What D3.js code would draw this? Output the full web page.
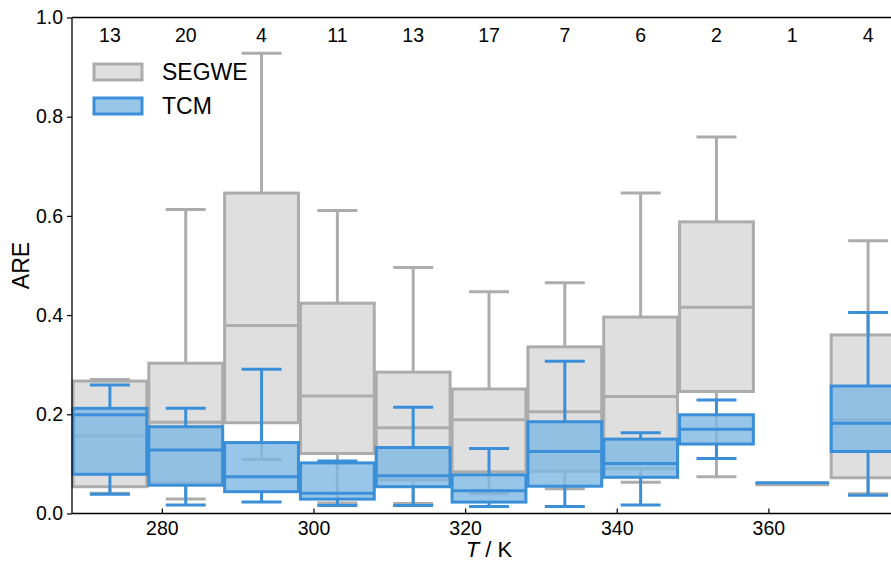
<!DOCTYPE html>
<html>
<head>
<meta charset="utf-8">
<script src="https://cdn.jsdelivr.net/npm/d3@7"></script>
<style>
  body { margin: 0; background: #fff; }
  svg { font-family: "Liberation Sans", Arial, sans-serif; display: block; }
</style>
</head>
<body>
<svg id="chart" width="891" height="562"></svg>
<script>
// bin centres (K) and number of points per bin
var temps = [273.15, 283.15, 293.15, 303.15, 313.15, 323.15, 333.15, 343.15, 353.15, 363.15, 373.15];
var counts = [13, 20, 4, 11, 13, 17, 7, 6, 2, 1, 4];

// SEGWE box stats: lower whisker, q1, median, q3, upper whisker
var segweLo  = [0.041, 0.029, 0.109, 0.021, 0.020, 0.040, 0.050, 0.063, 0.074, 0.058, 0.040];
var segweQ1  = [0.054, 0.062, 0.183, 0.121, 0.068, 0.084, 0.085, 0.090, 0.246, 0.058, 0.072];
var segweMed = [0.157, 0.184, 0.379, 0.237, 0.173, 0.189, 0.205, 0.236, 0.416, 0.058, 0.189];
var segweQ3  = [0.267, 0.303, 0.646, 0.424, 0.285, 0.251, 0.336, 0.396, 0.588, 0.058, 0.360];
var segweHi  = [0.270, 0.613, 0.928, 0.611, 0.496, 0.447, 0.465, 0.646, 0.759, 0.058, 0.550];

// TCM box stats
var tcmLo  = [0.039, 0.017, 0.023, 0.016, 0.016, 0.014, 0.014, 0.017, 0.111, 0.062, 0.037];
var tcmQ1  = [0.079, 0.057, 0.044, 0.029, 0.054, 0.023, 0.055, 0.073, 0.140, 0.062, 0.125];
var tcmMed = [0.199, 0.128, 0.074, 0.041, 0.076, 0.046, 0.125, 0.101, 0.170, 0.062, 0.182];
var tcmQ3  = [0.212, 0.175, 0.143, 0.102, 0.133, 0.078, 0.185, 0.150, 0.199, 0.062, 0.257];
var tcmHi  = [0.259, 0.212, 0.291, 0.106, 0.214, 0.131, 0.307, 0.163, 0.229, 0.062, 0.405];

var xTicks = [280, 300, 320, 340, 360];
var yTicks = [0, 0.2, 0.4, 0.6, 0.8, 1.0];

var svg = d3.select('#chart');
var plotLeft = 72, plotTop = 17.5, plotBottom = 513.5, plotRight = 906;

var x = d3.scaleLinear().domain([268.15, 378.15]).range([plotLeft, plotRight]);
var y = d3.scaleLinear().domain([0, 1]).range([plotBottom, plotTop]);

var boxW = x(278.15) - x(268.15) - 2;
var capW = 40;

function drawSeries(lo, q1, med, q3, hi, stroke, fill, fillOpacity) {
    var g = svg.append('g');
    temps.forEach(function(t, i) {
        var cx = x(t);
        var gg = g.append('g')
            .attr('stroke', stroke)
            .attr('stroke-width', 3)
            .attr('fill', 'none');
        if (counts[i] > 1) {
            // whiskers
            gg.append('line').attr('x1', cx).attr('x2', cx).attr('y1', y(q3[i])).attr('y2', y(hi[i]));
            gg.append('line').attr('x1', cx).attr('x2', cx).attr('y1', y(q1[i])).attr('y2', y(lo[i]));
            gg.append('line').attr('x1', cx - capW / 2).attr('x2', cx + capW / 2).attr('y1', y(hi[i])).attr('y2', y(hi[i]));
            gg.append('line').attr('x1', cx - capW / 2).attr('x2', cx + capW / 2).attr('y1', y(lo[i])).attr('y2', y(lo[i]));
            gg.append('rect')
                .attr('x', cx - boxW / 2)
                .attr('y', y(q3[i]))
                .attr('width', boxW)
                .attr('height', y(q1[i]) - y(q3[i]))
                .attr('fill', fill)
                .attr('fill-opacity', fillOpacity);
        }
        gg.append('line').attr('x1', cx - boxW / 2).attr('x2', cx + boxW / 2).attr('y1', y(med[i])).attr('y2', y(med[i]));
    });
}

drawSeries(segweLo, segweQ1, segweMed, segweQ3, segweHi, '#acacac', '#dfdfdf', 1);
drawSeries(tcmLo, tcmQ1, tcmMed, tcmQ3, tcmHi, '#3a8fd8', '#7eb8e2', 0.8);

// axes frame
svg.append('line').attr('x1', plotLeft).attr('x2', plotRight).attr('y1', plotBottom).attr('y2', plotBottom)
    .attr('stroke', '#000').attr('stroke-width', 1.3);
svg.append('line').attr('x1', plotLeft).attr('x2', plotRight).attr('y1', plotTop).attr('y2', plotTop)
    .attr('stroke', '#000').attr('stroke-width', 1.3);
svg.append('line').attr('x1', plotLeft).attr('x2', plotLeft).attr('y1', plotTop).attr('y2', plotBottom)
    .attr('stroke', '#000').attr('stroke-width', 1.3);

// x ticks (inward)
var xAxis = svg.append('g').attr('transform', 'translate(0,' + plotBottom + ')')
    .call(d3.axisBottom(x).tickValues(xTicks).tickSize(-5).tickPadding(8).tickFormat(d3.format('d')));
xAxis.select('.domain').remove();
xAxis.selectAll('text').attr('font-size', 19.5).attr('fill', '#000').attr('font-family', '"Liberation Sans", Arial, sans-serif');
xAxis.selectAll('line').attr('stroke', '#000').attr('stroke-width', 1.2);

// y ticks (outward)
var yAxis = svg.append('g').attr('transform', 'translate(' + plotLeft + ',0)')
    .call(d3.axisLeft(y).tickValues(yTicks).tickSize(5).tickPadding(4).tickFormat(d3.format('.1f')));
yAxis.select('.domain').remove();
yAxis.selectAll('text').attr('font-size', 19.5).attr('fill', '#000').attr('font-family', '"Liberation Sans", Arial, sans-serif');
yAxis.selectAll('line').attr('stroke', '#000').attr('stroke-width', 1.2);

// counts along the top
svg.append('g').selectAll('text').data(counts).enter().append('text')
    .attr('x', function(d, i) { return x(temps[i]); })
    .attr('y', 42)
    .attr('text-anchor', 'middle')
    .attr('font-size', 19.5)
    .text(function(d) { return d; });

// axis labels
svg.append('text')
    .attr('transform', 'translate(29,' + ((plotTop + plotBottom) / 2) + ') rotate(-90)')
    .attr('text-anchor', 'middle')
    .attr('font-size', 23)
    .text('ARE');

var xl = svg.append('text')
    .attr('x', (plotLeft + plotRight) / 2)
    .attr('y', 557)
    .attr('text-anchor', 'middle')
    .attr('font-size', 22);
xl.append('tspan').attr('font-style', 'italic').text('T');
xl.append('tspan').text(' / K');

// legend
var legend = [
    { name: 'SEGWE', stroke: '#acacac', fill: '#dfdfdf', op: 1 },
    { name: 'TCM', stroke: '#3a8fd8', fill: '#7eb8e2', op: 0.8 }
];
var lg = svg.append('g').selectAll('g').data(legend).enter().append('g')
    .attr('transform', function(d, i) { return 'translate(94,' + (64 + i * 34) + ')'; });
lg.append('rect')
    .attr('width', 48).attr('height', 16)
    .attr('fill', function(d) { return d.fill; })
    .attr('fill-opacity', function(d) { return d.op; })
    .attr('stroke', function(d) { return d.stroke; })
    .attr('stroke-width', 3);
lg.append('text')
    .attr('x', 68).attr('y', 16)
    .attr('font-size', 23)
    .text(function(d) { return d.name; });
</script>
</body>
</html>
